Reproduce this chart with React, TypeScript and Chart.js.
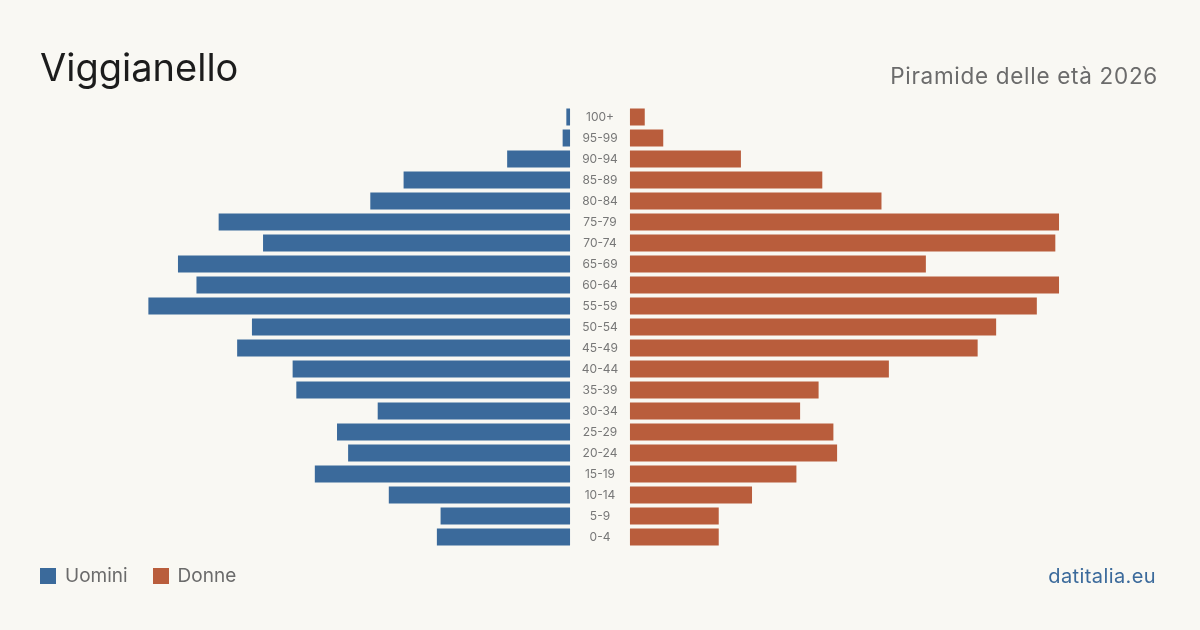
import React, { useEffect, useRef } from "react";
import { Chart, registerables } from "chart.js";

Chart.register(...registerables);

const AGE_GROUPS = ["100+", "95-99", "90-94", "85-89", "80-84", "75-79", "70-74", "65-69", "60-64", "55-59", "50-54", "45-49", "40-44", "35-39", "30-34", "25-29", "20-24", "15-19", "10-14", "5-9", "0-4"];
const MEN = [1, 2, 17, 45, 54, 95, 83, 106, 101, 114, 86, 90, 75, 74, 52, 63, 60, 69, 49, 35, 36];
const WOMEN = [4, 9, 30, 52, 68, 116, 115, 80, 116, 110, 99, 94, 70, 51, 46, 55, 56, 45, 33, 24, 24];

const X_MAX = 151.4;
const GAP = 8.1;

const BLUE = "#3b6a9b";
const ORANGE = "#b95d3c";
const BG = "#f9f8f3";
const FONT = "Inter, 'Noto Sans', sans-serif";

const centerLabels = {
  id: "centerLabels",
  afterDatasetsDraw(chart: any) {
    const { ctx, scales } = chart;
    const x = scales.x.getPixelForValue(0);
    ctx.save();
    ctx.font = `12px ${FONT}`;
    ctx.fillStyle = "#777777";
    ctx.textAlign = "center";
    ctx.textBaseline = "middle";
    AGE_GROUPS.forEach((lab, i) => {
      const y = scales.y.getPixelForValue(i);
      ctx.fillText(lab, x, y + 0.5);
    });
    ctx.restore();
  },
};

export default function App() {
  const ref = useRef<HTMLCanvasElement>(null);
  useEffect(() => {
    if (!ref.current) return;
    const chart = new Chart(ref.current, {
      type: "bar",
      data: {
        labels: AGE_GROUPS,
        datasets: [
          {
            label: "Uomini",
            data: MEN.map((v) => [-(GAP + v), -GAP]) as any,
            backgroundColor: BLUE,
            borderWidth: 0,
            grouped: false,
          },
          {
            label: "Donne",
            data: WOMEN.map((v) => [GAP, GAP + v]) as any,
            backgroundColor: ORANGE,
            borderWidth: 0,
            grouped: false,
          },
        ],
      },
      options: {
        indexAxis: "y",
        animation: false,
        responsive: false,
        maintainAspectRatio: false,
        layout: { padding: { left: 40, right: 40, top: 106.5, bottom: 82.5 } },
        datasets: { bar: { categoryPercentage: 1, barPercentage: 0.81 } },
        scales: {
          x: { display: false, min: -X_MAX, max: X_MAX },
          y: { display: false },
        },
        plugins: { legend: { display: false }, tooltip: { enabled: false }, title: { display: false } },
      } as any,
      plugins: [centerLabels],
    });
    return () => chart.destroy();
  }, []);

  return (
    <div style={{ position: "absolute", left: 0, top: 0, width: 1200, height: 630, background: BG, fontFamily: FONT, overflow: "hidden" }}>
      <canvas ref={ref} width={1200} height={630} style={{ position: "absolute", left: 0, top: 0 }} />
      <div style={{ position: "absolute", left: 40, top: 43, fontSize: 38, color: "#1c1c1c", lineHeight: "48px" }}>Viggianello</div>
      <div style={{ position: "absolute", right: 42, top: 62, fontSize: 22.5, letterSpacing: "0.7px", color: "#6b6b6b", lineHeight: "28px" }}>Piramide delle età 2026</div>
      <div style={{ position: "absolute", left: 40, top: 564, display: "flex", alignItems: "center", fontSize: 19, color: "#6b6b6b", lineHeight: "24px" }}>
        <span style={{ width: 16, height: 16, background: BLUE, display: "inline-block", marginRight: 9 }} />
        <span>Uomini</span>
        <span style={{ width: 16, height: 16, background: ORANGE, display: "inline-block", marginLeft: 25, marginRight: 9 }} />
        <span>Donne</span>
      </div>
      <div style={{ position: "absolute", right: 44, top: 563, fontSize: 20, letterSpacing: "0.4px", color: "#3b6a9b", lineHeight: "26px" }}>datitalia.eu</div>
    </div>
  );
}
